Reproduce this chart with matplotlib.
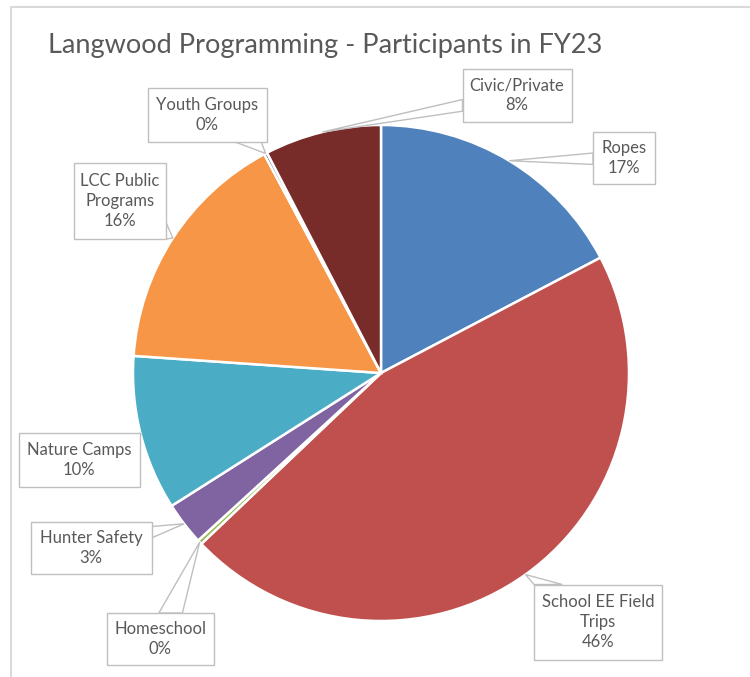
import matplotlib.pyplot as plt
from matplotlib.patches import Rectangle, Polygon
import numpy as np

# data, clockwise from 12 o'clock
categories = ["Ropes", "School EE Field\nTrips", "Homeschool", "Hunter Safety",
              "Nature Camps", "LCC Public\nPrograms", "Youth Groups", "Civic/Private"]
shares = [17.3, 45.6, 0.3, 2.8, 10.1, 16.1, 0.2, 7.6]
colors = ["#4F81BD", "#C0504D", "#9BBB59", "#8064A2",
          "#4BACC6", "#F79646", "#2C4D75", "#772C2A"]

# label box layout (pixel coords, y from top): centre x, centre y, width, height
box_cx = [624, 598, 160, 91, 79, 120, 207, 517]
box_cy = [158, 622, 639, 548, 460, 201, 115, 95]
box_w = [62, 128, 107, 121, 121, 92, 119, 109]
box_h = [52, 75, 52, 52, 54, 76, 54, 53]

W, H = 750, 677
CX, CY, R = 381, 373, 248
TXT = "#595959"
EDGE = "#BFBFBF"

plt.rcParams['font.family'] = ['Lato', 'DejaVu Sans']

fig = plt.figure(figsize=(W / 100, H / 100), dpi=100)
ax = fig.add_axes([0, 0, 1, 1])

wedges, _ = ax.pie(shares, colors=colors, startangle=90, counterclock=False,
                   center=(CX, H - CY), radius=R,
                   wedgeprops=dict(edgecolor="white", linewidth=1.8))
ax.set_xlim(0, W)
ax.set_ylim(0, H)
ax.set_aspect("auto")
ax.axis("off")

# chart frame
ax.plot([11, 11, W], [0, H - 7, H - 7], color="#D9D9D9", lw=1.5, clip_on=False)

ax.text(48, H - 53, "Langwood Programming - Participants in FY23",
        fontsize=19.5, color=TXT, ha="left", va="baseline")


def callout(cx, cy, w, h, tx, ty, text):
    # pointer from the box edge to the slice
    dx, dy = tx - cx, ty - cy
    sx = (w / 2) / abs(dx) if dx else np.inf
    sy = (h / 2) / abs(dy) if dy else np.inf
    if sx < sy:
        ex = cx + np.sign(dx) * w / 2
        ey = cy + dy * sx
        half = 0.11 * h
        lo, hi = cy - h / 2, cy + h / 2
        e1 = min(max(ey - half, lo), hi - 2 * half)
        base = [(ex, e1), (ex, e1 + 2 * half)]
    else:
        ey = cy + np.sign(dy) * h / 2
        ex = cx + dx * sy
        half = 0.11 * w
        lo, hi = cx - w / 2, cx + w / 2
        e1 = min(max(ex - half, lo), hi - 2 * half)
        base = [(e1, ey), (e1 + 2 * half, ey)]
    tri = Polygon([base[0], (tx, ty), base[1]], closed=True, facecolor="white",
                  edgecolor=EDGE, lw=1, zorder=3)
    ax.add_patch(tri)
    ax.add_patch(Rectangle((cx - w / 2, cy - h / 2), w, h, facecolor="white",
                           edgecolor=EDGE, lw=1, zorder=4))
    ax.text(cx, cy, text, ha="center", va="center", fontsize=12, color=TXT,
            linespacing=1.3, zorder=5)


total = sum(shares)
for i, wd in enumerate(wedges):
    mid = np.deg2rad((wd.theta1 + wd.theta2) / 2)
    tx = CX + R * np.cos(mid)
    ty = (H - CY) + R * np.sin(mid)
    label = f"{categories[i]}\n{round(shares[i] / total * 100)}%"
    callout(box_cx[i], H - box_cy[i], box_w[i], box_h[i], tx, ty, label)

fig.savefig("out.png", dpi=100, facecolor="white")
